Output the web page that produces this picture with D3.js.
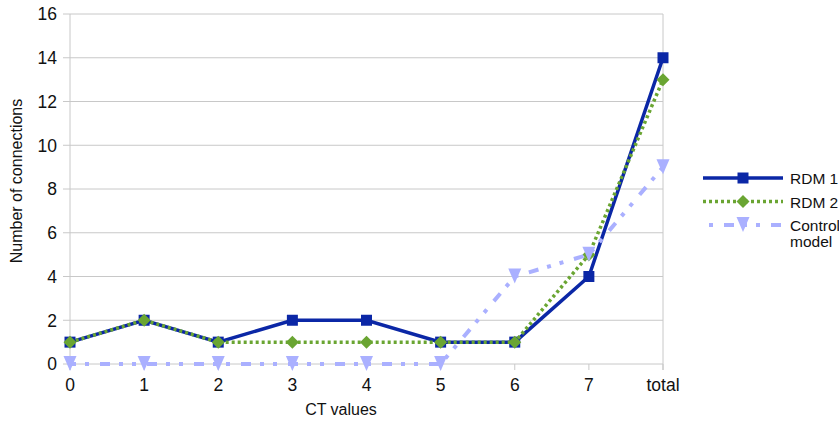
<!DOCTYPE html>
<html>
<head>
<meta charset="utf-8">
<script src="https://cdn.jsdelivr.net/npm/d3@7"></script>
<style>
  body { margin: 0; background: #fff; }
  svg { display: block; font-family: "Liberation Sans", Arial, sans-serif; }
</style>
</head>
<body>
<svg id="chart" width="839" height="421"></svg>
<script>
const categories = ["0", "1", "2", "3", "4", "5", "6", "7", "total"];
const rdm1 = [1, 2, 1, 2, 2, 1, 1, 4, 14];
const rdm2 = [1, 2, 1, 1, 1, 1, 1, 5, 13];
const control = [0, 0, 0, 0, 0, 0, 4, 5, 9];
const yTicks = [0, 2, 4, 6, 8, 10, 12, 14, 16];
const seriesNames = ["RDM 1", "RDM 2", "Control model"];

(function () {
const svg = d3.select("#chart");
const pLeft = 70, pRight = 663, pTop = 14, pBottom = 364;
const textColor = "#111";

const x = d3.scalePoint().domain(categories).range([pLeft, pRight]);
const y = d3.scaleLinear().domain([0, 16]).range([pBottom, pTop]);

// gridlines
svg.append("g").selectAll("line").data(yTicks).join("line")
  .attr("x1", pLeft - 7).attr("x2", pRight)
  .attr("y1", d => y(d)).attr("y2", d => y(d))
  .attr("stroke", "#c8c8c8").attr("stroke-width", 1);

// vertical borders
[pLeft, pRight].forEach(xx => {
  svg.append("line").attr("x1", xx).attr("x2", xx).attr("y1", pTop).attr("y2", pBottom + 6)
    .attr("stroke", "#c8c8c8").attr("stroke-width", 1);
});
// x ticks
svg.append("g").selectAll("line").data(categories).join("line")
  .attr("x1", d => x(d)).attr("x2", d => x(d))
  .attr("y1", pBottom).attr("y2", pBottom + 6)
  .attr("stroke", "#c8c8c8").attr("stroke-width", 1);

// y tick labels
svg.append("g").selectAll("text").data(yTicks).join("text")
  .attr("x", 57).attr("y", d => y(d) + 6.3)
  .attr("text-anchor", "end").attr("font-size", 17.5).attr("fill", textColor)
  .text(d => d);

// x tick labels
svg.append("g").selectAll("text").data(categories).join("text")
  .attr("x", d => x(d)).attr("y", 391)
  .attr("text-anchor", "middle").attr("font-size", 17.5).attr("fill", textColor)
  .text(d => d);

// axis titles
svg.append("text").attr("x", 341).attr("y", 415).attr("text-anchor", "middle")
  .attr("font-size", 16).attr("fill", textColor).text("CT values");
svg.append("text").attr("transform", "translate(22,181) rotate(-90)")
  .attr("text-anchor", "middle").attr("font-size", 16).attr("fill", textColor)
  .text("Number of connections");

const squarePath = "M-5.5,-5.5H5.5V5.5H-5.5Z";
const diamondPath = "M0,-6.5L6.5,0L0,6.5L-6.5,0Z";
const trianglePath = "M-6.5,-8L6.5,-8L0,7Z";

const styles = [
  { data: rdm1, color: "#0b27a6", width: 3.5, dash: null, offset: 0, marker: squarePath },
  { data: rdm2, color: "#6aa532", width: 3.5, dash: "3,3", offset: 0, marker: diamondPath },
  { data: control, color: "#aab0ff", width: 4, dash: "10,9,4,9,4,11", offset: 17, marker: trianglePath }
];

const line = d3.line().x((d, i) => x(categories[i])).y(d => y(d));

styles.forEach(s => {
  svg.append("path").datum(s.data).attr("d", line)
    .attr("fill", "none").attr("stroke", s.color).attr("stroke-width", s.width)
    .attr("stroke-dasharray", s.dash).attr("stroke-dashoffset", s.offset)
    .attr("stroke-linejoin", "miter");
  svg.append("g").selectAll("path").data(s.data).join("path")
    .attr("d", s.marker)
    .attr("transform", (d, i) => `translate(${x(categories[i])},${y(d)})`)
    .attr("fill", s.color);
});

// legend
const legY = [178, 201.5, 225];
styles.forEach((s, i) => {
  const g = svg.append("g");
  g.append("line").attr("x1", 703).attr("x2", 783).attr("y1", legY[i]).attr("y2", legY[i])
    .attr("stroke", s.color).attr("stroke-width", s.width).attr("stroke-dasharray", s.dash)
    .attr("stroke-dashoffset", i === 2 ? 26 : 0);
  g.append("path").attr("d", s.marker)
    .attr("transform", `translate(743,${legY[i]})`).attr("fill", s.color);
});
const legText = [["RDM 1", legY[0] + 6], ["RDM 2", legY[1] + 6], ["Control", legY[2] + 6], ["model", legY[2] + 22]];
svg.append("g").selectAll("text").data(legText).join("text")
  .attr("x", 790).attr("y", d => d[1]).attr("font-size", 15.5).attr("fill", textColor)
  .text(d => d[0]);
})();
</script>
</body>
</html>
